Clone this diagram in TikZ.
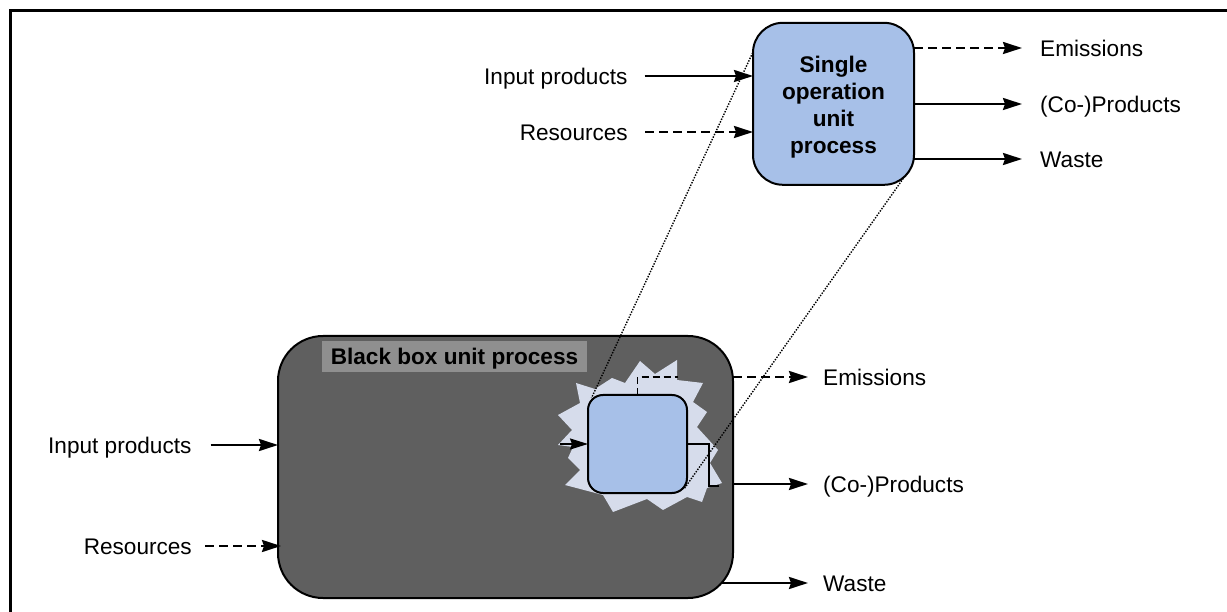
\documentclass[tikz,border=0pt]{standalone}
\usepackage{fontspec}
\setmainfont{Liberation Sans}
\usetikzlibrary{arrows.meta}
\definecolor{lblue}{RGB}{167,192,232}
\definecolor{burst}{RGB}{214,220,235}
\definecolor{dgray}{RGB}{95,95,95}
\definecolor{lgray}{RGB}{143,143,143}
\begin{document}
\begin{tikzpicture}[x=1pt,y=-1pt,
  font=\fontsize{22.6}{27}\selectfont,
  box/.style={draw, line width=2pt, fill=lblue, outer sep=0pt, inner sep=0pt},
  txt/.style={inner sep=0pt, text height=16.2pt, text depth=0pt},
  arr/.style={line width=2.3pt, -{Stealth[length=19pt,width=12pt,inset=2pt]}},
  darr/.style={arr, dash pattern=on 9pt off 5pt},
  thin arr/.style={line width=1.8pt, -{Stealth[length=18pt,width=11pt,inset=2pt]}},
  dotline/.style={line width=1.4pt, dash pattern=on 1.4pt off 1.4pt}]
\useasboundingbox (0,0) rectangle (1227,612);
% frame
\draw[line width=3pt] (10,612) -- (10,11) -- (1227,11);

% black box
\node[draw, line width=2pt, fill=dgray, outer sep=0pt, minimum width=455pt, minimum height=262pt, rounded corners=45pt] (bb) at (505.5,467) {};
\node[fill=lgray, inner sep=0pt, minimum width=265pt, minimum height=31pt, text height=16.2pt, text depth=0pt, font=\fontsize{22.6}{27}\selectfont\bfseries] (bbl) at (454.5,356.5) {Black box unit process};

% starburst
\fill[burst] (576,383) -- (595,389) -- (612,378) -- (625,383) -- (640,361) -- (655,374) -- (677,360) -- (677,380) -- (703,383) -- (693,402) -- (707,412) -- (697,427) -- (718,450) -- (710,463) -- (722,483) -- (707,488) -- (702,502) -- (687,497) -- (663,510) -- (647,499) -- (613,512) -- (603,495) -- (565,485) -- (580,470) -- (568,458) -- (573,447) -- (558,445) -- (572,430) -- (558,415) -- (580,403) -- cycle;

% inner box
\node[box, minimum width=99pt, minimum height=98pt, rounded corners=15pt] (ib) at (637.5,444) {};
\coordinate (ibin) at (560,444);
\draw[thin arr] (ibin) -- (ib.west);
\draw[line width=1.5pt, dash pattern=on 7pt off 4pt] (ib.north) -- ++(0,-18) -- ++(40,0);
\draw[line width=1.5pt] (ib.east) -- ++(22,0) -- ++(0,42) -- ++(10,0);

% single operation box
\node[box, minimum width=161pt, minimum height=162pt, rounded corners=30pt] (sop) at (833.5,103.8) {};
\node[align=center, inner sep=0pt, font=\fontsize{22.6}{27}\selectfont\bfseries] (sopT) at ([yshift=-3pt]sop.center) {Single\\operation\\unit\\process};

% top labels and arrows
\node[txt, anchor=west] (ipT) at (484,76) {Input products};
\node[txt, anchor=east] (resT) at (628,132) {Resources};
\node[txt, anchor=west] (emT) at (1040,48) {Emissions};
\node[txt, anchor=west] (cpT) at (1040,104) {(Co-)Products};
\node[txt, anchor=west] (wT) at (1040,159) {Waste};
\draw[arr, shorten <=17pt] (ipT.east) -- (ipT.east -| sop.west);
\draw[darr, shorten <=17pt] (resT.east) -- (resT.east -| sop.west);
\draw[darr, shorten >=18pt] (emT.west -| sop.east) -- (emT.west);
\draw[arr, shorten >=18pt] (cpT.west -| sop.east) -- (cpT.west);
\draw[arr, shorten >=18pt] (wT.west -| sop.east) -- (wT.west);

% bottom labels and arrows
\node[txt, anchor=west] (ipB) at (48,445) {Input products};
\node[txt, anchor=east] (resB) at (192,546) {Resources};
\node[txt, anchor=west] (emB) at (823,377) {Emissions};
\node[txt, anchor=west] (cpB) at (823,484) {(Co-)Products};
\node[txt, anchor=west] (wB) at (823,583) {Waste};
\coordinate (wS) at (721.5,583);
\draw[arr, shorten <=19pt] (ipB.east) -- (ipB.east -| bb.west);
\draw[darr, shorten <=13pt, shorten >=-3pt] (resB.east) -- (resB.east -| bb.west);
\draw[darr, shorten >=15pt] (emB.west -| bb.east) -- (emB.west);
\draw[arr, shorten >=15pt] (cpB.west -| bb.east) -- (cpB.west);
\draw[arr, shorten >=15pt] (wS) -- (wB.west);

% dotted zoom lines
\coordinate (d1a) at (752.7,52.7);
\coordinate (d1b) at (591.5,398);
\coordinate (d2a) at (905,176);
\coordinate (d2b) at (684,489);
\draw[dotline] (d1a) -- (d1b);
\draw[dotline] (d2a) -- (d2b);
\end{tikzpicture}
\end{document}
